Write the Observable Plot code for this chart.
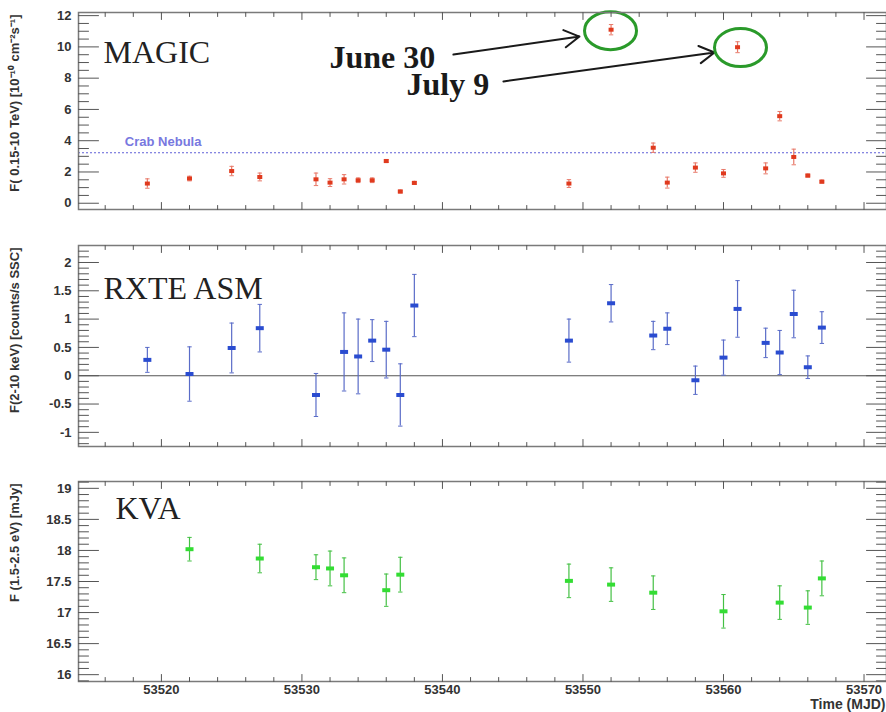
<!DOCTYPE html>
<html>
<head>
<meta charset="utf-8">
<script src="https://cdn.jsdelivr.net/npm/d3@7"></script>
<script src="https://cdn.jsdelivr.net/npm/@observablehq/plot@0.6"></script>
<style>
  html, body { margin: 0; padding: 0; background: white; }
  #chart { width: 886px; height: 712px; overflow: hidden; }
  #chart svg { display: block; }
</style>
</head>
<body>
<div id="chart"></div>
<script>
// ---------------- data ----------------
const magicMJD  = [53519,53522,53525,53527,53531,53532,53533,53534,53535,53536,53537,53538,53549,53552,53555,53556,53558,53560,53561,53563,53564,53565,53566,53567];
const magicFlux = [1.26,1.58,2.06,1.68,1.53,1.32,1.53,1.47,1.47,2.70,0.75,1.30,1.26,11.10,3.55,1.32,2.28,1.91,9.98,2.23,5.57,2.96,1.77,1.38];
const magicErr  = [0.30,0.15,0.30,0.25,0.40,0.25,0.30,0.15,0.15,0.10,0.10,0.10,0.25,0.33,0.30,0.35,0.30,0.25,0.35,0.35,0.30,0.50,0.10,0.10];

const rxteMJD  = [53519,53522,53525,53527,53531,53533,53534,53535,53536,53537,53538,53549,53552,53555,53556,53558,53560,53561,53563,53564,53565,53566,53567];
const rxteRate = [0.28,0.03,0.49,0.84,-0.34,0.42,0.34,0.62,0.46,-0.34,1.24,0.62,1.28,0.71,0.83,-0.08,0.32,1.18,0.58,0.41,1.09,0.15,0.85];
const rxteErr  = [0.22,0.48,0.44,0.42,0.38,0.69,0.66,0.37,0.50,0.55,0.55,0.38,0.33,0.25,0.28,0.25,0.31,0.50,0.26,0.39,0.42,0.20,0.28];

const kvaMJD  = [53522,53527,53531,53532,53533,53536,53537,53549,53552,53555,53560,53564,53566,53567];
const kvaFlux = [18.02,17.87,17.73,17.71,17.60,17.36,17.61,17.51,17.45,17.32,17.02,17.16,17.08,17.55];
const kvaErr  = [0.19,0.23,0.20,0.28,0.28,0.26,0.28,0.27,0.27,0.27,0.27,0.27,0.27,0.28];

const crabLevel = 3.23;
const crabLabel = "Crab Nebula";
const crabLabelMJD = 53517.4;

const panelNames = ["MAGIC", "RXTE ASM", "KVA"];
const yTitles = ["F( 0.15-10 TeV) [10\u207B\u00B9\u2070 cm\u207B\u00B2s\u207B\u00B9]", "F(2-10 keV) [counts/s SSC]", "F (1.5-2.5 eV) [mJy]"];
const xTitle = "Time (MJD)";

const xMajorTicks = [53520, 53530, 53540, 53550, 53560, 53570];
const xMinorTicks = d3.range(53516, 53571, 2);

const magicMajor = [0, 2, 4, 6, 8, 10, 12];
const magicMinor = d3.range(0, 24.5, 1).map(d => d / 2);
const rxteMajor = [-1, -0.5, 0, 0.5, 1, 1.5, 2];
const rxteMinor = d3.range(-12, 23, 1).map(d => d / 10);
const kvaMajor = [16, 16.5, 17, 17.5, 18, 18.5, 19];
const kvaMinor = d3.range(159, 192, 1).map(d => d / 10);

// annotations (data units)
const flareLabels = [
  {text: "June 30", mjd: 53531.96, flux: 9.33},
  {text: "July 9",  mjd: 53537.44, flux: 7.61}
];
const flareArrows = [
  {x1: 53540.78, y1: 9.51, x2: 53549.75, y2: 10.66},
  {x1: 53544.34, y1: 7.79, x2: 53559.36, y2: 9.64}
];
const flareCircles = [
  {mjd: 53551.96, flux: 11.04},
  {mjd: 53561.21, flux: 9.96}
];

// ---------------- helpers ----------------
const xDomain = [53514.1, 53571.6];
const tickColor = "#555";
const frameColor = "#7a7a7a";
const labelColor = "#333";
const sansFont = "'Liberation Sans', Arial, Helvetica, sans-serif";
const serifFont = "'Liberation Serif', 'Times New Roman', serif";

const lineShape = {draw(ctx, l) { ctx.moveTo(0, 0); ctx.lineTo(0, -l); }};
const capSymbol = {draw(ctx) { ctx.moveTo(-2.2, 0); ctx.lineTo(2.2, 0); }};
const markerSymbol = (w, h) => ({draw(ctx) { ctx.rect(-w / 2, -h / 2, w, h); }});
const ellipseSymbol = {draw(ctx) {
  const a = 26, b = 19, k = 0.5523;
  ctx.moveTo(a, 0);
  ctx.bezierCurveTo(a, b * k, a * k, b, 0, b);
  ctx.bezierCurveTo(-a * k, b, -a, b * k, -a, 0);
  ctx.bezierCurveTo(-a, -b * k, -a * k, -b, 0, -b);
  ctx.bezierCurveTo(a * k, -b, a, -b * k, a, 0);
  ctx.closePath();
}};

function xTickMarks(values, len) {
  return [
    Plot.vector(values, {x: d => d, frameAnchor: "bottom", rotate: 0, length: len, anchor: "start", shape: lineShape, stroke: tickColor, strokeWidth: 1}),
    Plot.vector(values, {x: d => d, frameAnchor: "top", rotate: 180, length: len, anchor: "start", shape: lineShape, stroke: tickColor, strokeWidth: 1})
  ];
}
function yTickMarks(values, len) {
  return [
    Plot.vector(values, {y: d => d, frameAnchor: "left", rotate: 90, length: len, anchor: "start", shape: lineShape, stroke: tickColor, strokeWidth: 1}),
    Plot.vector(values, {y: d => d, frameAnchor: "right", rotate: -90, length: len, anchor: "start", shape: lineShape, stroke: tickColor, strokeWidth: 1})
  ];
}

function seriesMarks(mjd, val, err, color, errColor, mw, mh) {
  const rows = mjd.map((m, i) => ({mjd: m, v: val[i], e: err[i]}));
  return [
    Plot.ruleX(rows, {x: "mjd", y1: d => d.v - d.e, y2: d => d.v + d.e, stroke: errColor, strokeWidth: 1.2}),
    Plot.dot(rows, {x: "mjd", y: d => d.v - d.e, symbol: capSymbol, stroke: errColor, strokeWidth: 1, fill: "none", r: 2}),
    Plot.dot(rows, {x: "mjd", y: d => d.v + d.e, symbol: capSymbol, stroke: errColor, strokeWidth: 1, fill: "none", r: 2}),
    Plot.dot(rows, {x: "mjd", y: "v", symbol: markerSymbol(mw, mh), fill: color, stroke: "none", r: 3})
  ];
}

function panel({index, height, mt, mb, yDomain, yMajor, yMinor, showX, nameDx, nameDy, marks}) {
  const all = [
    ...marks,
    Plot.frame({stroke: frameColor, strokeWidth: 1.5}),
    ...xTickMarks(xMinorTicks.filter(d => !xMajorTicks.includes(d)), 4),
    ...xTickMarks(xMajorTicks, 7),
    ...yTickMarks(yMinor.filter(d => !yMajor.includes(d)), 10),
    ...yTickMarks(yMajor, 20),
    Plot.axisY({ticks: yMajor, tickSize: 0, tickPadding: 7, tickFormat: d => String(d), label: null,
      fontWeight: "bold", fontSize: 13, fill: labelColor}),
    Plot.text([yTitles[index]], {text: d => d, frameAnchor: "top-left", rotate: -90, textAnchor: "end", lineAnchor: "middle",
      dx: -64, dy: 2, fontWeight: "bold", fontSize: 13, fill: labelColor}),
    Plot.text([panelNames[index]], {text: d => d, frameAnchor: "top-left", textAnchor: "start", lineAnchor: "middle",
      dx: nameDx, dy: nameDy, fontFamily: serifFont, fontSize: 32, fill: "#222"})
  ];
  if (showX) {
    all.push(Plot.axisX({ticks: xMajorTicks, tickSize: 0, tickPadding: 3, tickFormat: d => String(d), label: null,
      fontWeight: "bold", fontSize: 13, fill: labelColor}));
    all.push(Plot.text([xTitle], {text: d => d, frameAnchor: "bottom-right", textAnchor: "end", lineAnchor: "top",
      dx: -1, dy: 18, fontWeight: "bold", fontSize: 14, fill: labelColor}));
  }
  return Plot.plot({
    width: 886, height,
    marginLeft: 78, marginRight: 0, marginTop: mt, marginBottom: mb,
    style: {fontFamily: sansFont, background: "white", overflow: "visible"},
    x: showX ? {domain: xDomain} : {domain: xDomain, axis: null},
    y: {domain: yDomain},
    marks: all
  });
}

// ---------------- panels ----------------
const chart = document.getElementById("chart");

chart.appendChild(panel({
  index: 0, height: 228, mt: 12, mb: 19, yDomain: [-0.4, 12.2],
  yMajor: magicMajor, yMinor: magicMinor, showX: false, nameDx: 25, nameDy: 40,
  marks: [
    Plot.ruleY([crabLevel], {stroke: "#6060d8", strokeWidth: 1.2, strokeDasharray: "2,2"}),
    Plot.text([crabLabel], {text: d => d, x: crabLabelMJD, y: crabLevel, dy: -11, textAnchor: "start", lineAnchor: "middle",
      fontWeight: "bold", fontSize: 13, fill: "#7878e0"}),
    ...seriesMarks(magicMJD, magicFlux, magicErr, "#e03a1e", "#e87a6a", 5, 4),
    Plot.arrow(flareArrows, {x1: "x1", y1: "y1", x2: "x2", y2: "y2", stroke: "#1a1a1a", strokeWidth: 2, headLength: 13}),
    Plot.dot(flareCircles, {x: "mjd", y: "flux", symbol: ellipseSymbol, r: 20, stroke: "#2a9a2a", strokeWidth: 3, fill: "none"}),
    Plot.text(flareLabels, {x: "mjd", y: "flux", text: "text", textAnchor: "start", lineAnchor: "middle",
      fontFamily: serifFont, fontWeight: "bold", fontSize: 32, fill: "#1a1a1a"})
  ]
}));

chart.appendChild(panel({
  index: 1, height: 228, mt: 17, mb: 10, yDomain: [-1.25, 2.3],
  yMajor: rxteMajor, yMinor: rxteMinor, showX: false, nameDx: 25, nameDy: 43,
  marks: [
    Plot.ruleY([0], {stroke: "#555", strokeWidth: 1.2}),
    ...seriesMarks(rxteMJD, rxteRate, rxteErr, "#2a4cd0", "#5a6cc8", 8, 4)
  ]
}));

chart.appendChild(panel({
  index: 2, height: 256, mt: 25, mb: 31, yDomain: [15.89, 19.11],
  yMajor: kvaMajor, yMinor: kvaMinor, showX: true, nameDx: 37, nameDy: 27,
  marks: [
    ...seriesMarks(kvaMJD, kvaFlux, kvaErr, "#33dd33", "#44c044", 8, 4)
  ]
}));
</script>
</body>
</html>
